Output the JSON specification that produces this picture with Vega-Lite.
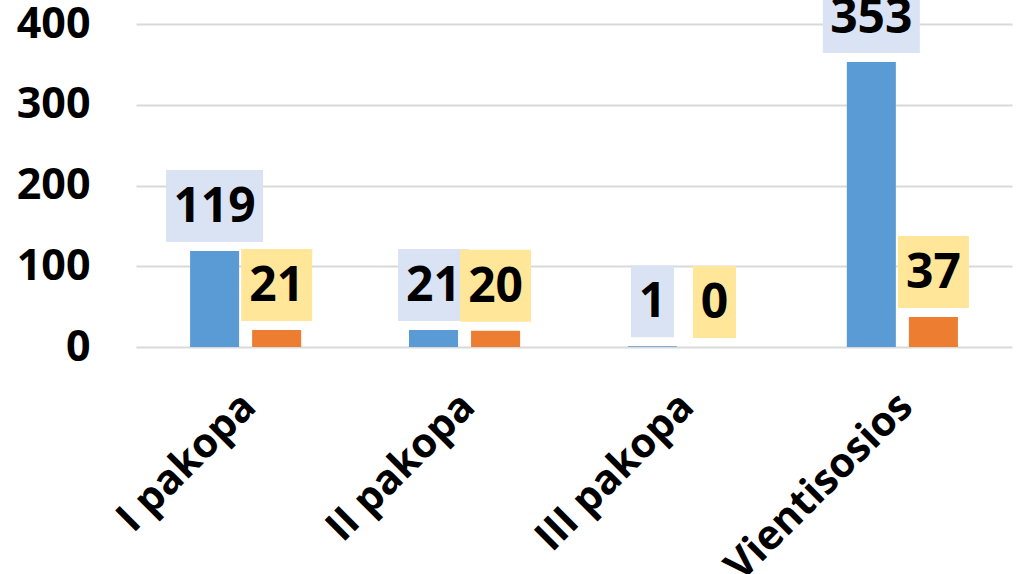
{
  "$schema": "https://vega.github.io/schema/vega-lite/v6.json",
  "autosize": "none",
  "width": 876,
  "height": 323,
  "padding": {"left": 136, "top": 24, "right": 8, "bottom": 227},
  "background": "white",
  "config": {
    "view": {"stroke": null},
    "font": "Open Sans",
    "axis": {"labelFont": "Open Sans", "labelColor": "#000000", "labelFontWeight": "bold"}
  },
  "data": {
    "values": [
      {"category": "I pakopa", "series": "Series 1", "value": 119},
      {"category": "II pakopa", "series": "Series 1", "value": 21},
      {"category": "III pakopa", "series": "Series 1", "value": 1},
      {"category": "Vientisosios", "series": "Series 1", "value": 353},
      {"category": "I pakopa", "series": "Series 2", "value": 21},
      {"category": "II pakopa", "series": "Series 2", "value": 20},
      {"category": "III pakopa", "series": "Series 2", "value": 0},
      {"category": "Vientisosios", "series": "Series 2", "value": 37}
    ]
  },
  "transform": [
    {"calculate": "'d' + length(toString(datum.value))", "as": "digits"}
  ],
  "encoding": {
    "x": {
      "field": "category",
      "type": "nominal",
      "sort": ["I pakopa", "II pakopa", "III pakopa", "Vientisosios"],
      "scale": {"paddingInner": 0.4925, "paddingOuter": 0.247},
      "axis": {
        "title": null,
        "domain": false,
        "ticks": false,
        "labelAngle": -45,
        "labelAlign": "right",
        "labelBaseline": "middle",
        "labelPadding": 53,
        "labelOffset": 4,
        "labelFontSize": 41,
        "labelLimit": 0,
        "labelOverlap": false
      }
    },
    "xOffset": {
      "field": "series",
      "type": "nominal",
      "scale": {"paddingInner": 0.21, "paddingOuter": 0}
    },
    "y": {
      "field": "value",
      "type": "quantitative",
      "scale": {"domain": [0, 400], "nice": false},
      "axis": {
        "title": null,
        "values": [0, 100, 200, 300, 400],
        "domain": false,
        "ticks": false,
        "labelFontSize": 43,
        "labelPadding": 46,
        "gridColor": "#D9D9D9",
        "gridWidth": 2
      }
    }
  },
  "layer": [
    {
      "mark": {"type": "bar"},
      "encoding": {
        "color": {
          "field": "series",
          "type": "nominal",
          "scale": {"domain": ["Series 1", "Series 2"], "range": ["#5B9BD5", "#ED7D31"]},
          "legend": null
        }
      }
    },
    {
      "mark": {"type": "point", "filled": true, "opacity": 1, "strokeWidth": 0, "yOffset": -45, "size": 5184},
      "encoding": {
        "fill": {
          "field": "series",
          "type": "nominal",
          "scale": {"domain": ["Series 1", "Series 2"], "range": ["#DAE3F3", "#FFE699"]},
          "legend": null
        },
        "shape": {
          "field": "digits",
          "type": "nominal",
          "scale": {
            "domain": ["d1", "d2", "d3"],
            "range": [
              "M-0.597,-1L0.597,-1L0.597,1L-0.597,1Z",
              "M-0.986,-1L0.986,-1L0.986,1L-0.986,1Z",
              "M-1.347,-1L1.347,-1L1.347,1L-1.347,1Z"
            ]
          },
          "legend": null
        }
      }
    },
    {
      "mark": {"type": "text", "fontSize": 48, "fontWeight": "bold", "color": "#000000", "baseline": "middle", "align": "center", "yOffset": -43},
      "encoding": {
        "text": {"field": "value", "type": "quantitative"}
      }
    }
  ],
  "resolve": {"scale": {"color": "independent", "fill": "independent"}}
}
